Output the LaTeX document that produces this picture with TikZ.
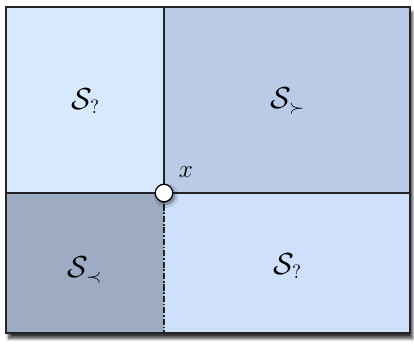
\documentclass[tikz,border=0pt]{standalone}
\usepackage{amsmath,amssymb}
\usetikzlibrary{shadows,shadows.blur}
\definecolor{cUL}{RGB}{215,233,252}
\definecolor{cUR}{RGB}{185,203,230}
\definecolor{cLL}{RGB}{157,171,195}
\definecolor{cLR}{RGB}{206,224,250}
\definecolor{cLine}{RGB}{35,35,40}
\newlength{\pxu}\setlength{\pxu}{0.02cm}
\tikzset{
  divider/.style={draw=cLine, line width=0.6pt},
  opendiv/.style={draw=cLine, line width=0.8pt, dash pattern=on 3.5pt off 1pt on 1pt off 1pt},
  frame/.style={draw=cLine, line width=1.3pt},
  lbl/.style={font=\fontsize{16}{19}\selectfont, inner sep=0pt},
  xlbl/.style={font=\fontsize{14}{17}\selectfont, inner sep=0pt},
  pt/.style={circle, draw=black, line width=0.7pt, fill=white, minimum size=17.5\pxu, inner sep=0pt,
    blur shadow={shadow xshift=1.2pt, shadow yshift=-1.5pt, shadow blur steps=6, shadow opacity=55}},
}
\begin{document}
\begin{tikzpicture}[x=0.02cm, y=-0.02cm]
\useasboundingbox (0,0) rectangle (414,343);
% frame shadow
\fill[cUL, blur shadow={shadow xshift=1.5pt, shadow yshift=-3pt, shadow blur steps=8, shadow opacity=80}] (6,7) rectangle (410,333);
% regions
\coordinate (TL) at (6,7);
\coordinate (BR) at (410,333);
\coordinate (X) at (164,193);
\fill[cUL] (6,7) rectangle (164,193);
\fill[cUR] (164,7) rectangle (410,193);
\fill[cLL] (6,193) rectangle (164,333);
\fill[cLR] (164,193) rectangle (410,333);
% dividers
\coordinate (Ttop) at (164,7);
\coordinate (Tbot) at (164,333);
\coordinate (Lmid) at (6,193);
\coordinate (Rmid) at (410,193);
\draw[divider] (Ttop) -- (X);
\draw[divider] (Lmid) -- (Rmid);
\draw[opendiv] (X) -- (Tbot);
\draw[frame] (TL) rectangle (BR);
% labels
\node[lbl] (sul) at (86,101) {$\mathcal{S}_{?}$};
\node[lbl] (sur) at (288,101) {$\mathcal{S}_{\succ}$};
\node[lbl] (sll) at (85,270) {$\mathcal{S}_{\prec}$};
\node[lbl] (slr) at (288,266) {$\mathcal{S}_{?}$};
\node[xlbl] (xl) at (186,172) {$x$};
\node[pt] (pt) at (X) {};
\end{tikzpicture}
\end{document}
